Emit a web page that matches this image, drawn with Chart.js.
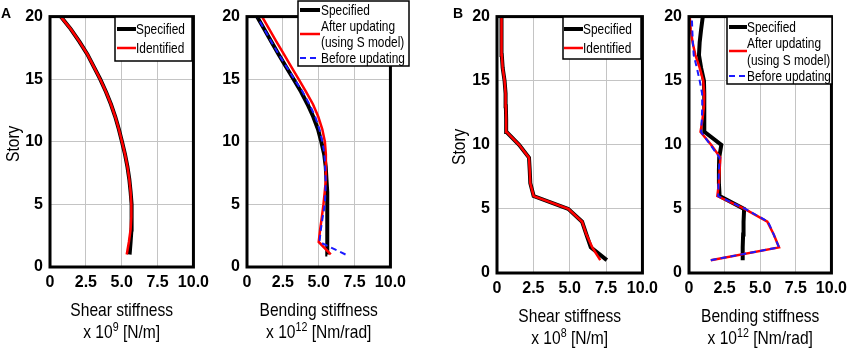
<!DOCTYPE html>
<html>
<head>
<meta charset="utf-8">
<script src="https://cdn.jsdelivr.net/npm/chart.js@4.4.1/dist/chart.umd.min.js"></script>
<style>
  body { margin: 0; background: #fff; }
  #wrap { position: relative; width: 856px; height: 349px; overflow: hidden; }
  canvas { position: absolute; top: 0; }
</style>
</head>
<body>
<div id="wrap">
  <canvas id="c1" width="215" height="349" style="left:0px"></canvas>
  <canvas id="c2" width="207" height="349" style="left:205px"></canvas>
  <canvas id="c3" width="234" height="349" style="left:430px"></canvas>
  <canvas id="c4" width="203" height="349" style="left:650px"></canvas>
</div>
<script>
// data
const stories = [1, 2, 3, 4, 5, 6, 7, 8, 9, 10, 11, 12, 13, 14, 15, 16, 17, 18, 19, 20];

// A - shear stiffness (x 10^9 N/m)
const aShearSpecified = [5.55, 5.62, 5.68, 5.70, 5.68, 5.62, 5.53, 5.40, 5.23, 5.02, 4.80, 4.55, 4.25, 3.90, 3.50, 3.05, 2.60, 2.05, 1.45, 0.75];
const aShearIdentified = [5.35, 5.50, 5.62, 5.67, 5.67, 5.62, 5.53, 5.40, 5.23, 5.02, 4.80, 4.55, 4.25, 3.90, 3.50, 3.05, 2.60, 2.05, 1.45, 0.75];
// A - bending stiffness (x 10^12 Nm/rad)
const aBendSpecified = [5.60, 5.60, 5.60, 5.60, 5.60, 5.58, 5.54, 5.49, 5.38, 5.18, 4.95, 4.62, 4.22, 3.77, 3.25, 2.72, 2.20, 1.70, 1.20, 0.70];
const aBendAfter = [5.84, 5.00, 5.10, 5.22, 5.33, 5.42, 5.50, 5.50, 5.50, 5.43, 5.25, 4.97, 4.60, 4.11, 3.60, 3.08, 2.57, 2.05, 1.55, 1.05];
const aBendBefore = [6.87, 5.05, 5.15, 5.28, 5.43, 5.47, 5.48, 5.45, 5.40, 5.26, 5.05, 4.76, 4.35, 3.88, 3.30, 2.75, 2.20, 1.70, 1.20, 0.70];

// B - shear stiffness (x 10^8 N/m)
const bShearSpecified = [7.55, 6.45, 6.15, 5.85, 4.90, 2.52, 2.29, 2.25, 2.20, 1.52, 0.66, 0.63, 0.61, 0.59, 0.52, 0.39, 0.33, 0.32, 0.31, 0.30];
const bShearIdentified = [7.10, 6.55, 6.15, 5.85, 4.90, 2.52, 2.29, 2.25, 2.20, 1.52, 0.66, 0.63, 0.61, 0.59, 0.52, 0.39, 0.33, 0.32, 0.31, 0.30];
// B - bending stiffness (x 10^12 Nm/rad)
const bBendSpecified = [3.77, 3.77, 3.80, 3.83, 3.87, 2.15, 2.10, 2.10, 2.12, 2.27, 1.10, 1.08, 1.07, 1.07, 1.05, 0.85, 0.70, 0.75, 0.85, 0.97];
const bBendAfter = [1.53, 6.32, 5.95, 5.50, 3.90, 1.99, 2.10, 2.15, 2.20, 1.55, 0.81, 0.95, 1.05, 1.07, 1.00, 0.75, 0.45, 0.25, 0.12, 0.05];
const bBendBefore = [1.53, 6.32, 5.95, 5.55, 3.95, 2.05, 2.07, 2.10, 2.15, 1.50, 0.85, 0.90, 0.93, 0.92, 0.75, 0.55, 0.33, 0.27, 0.23, 0.20];

const xMin = 0, xMax = 10, xStep = 2.5;
const yMin = 0, yMax = 20, yStep = 5;

const FONT = "'Liberation Sans', Arial, sans-serif";
const NARROW = 0.82; // the original uses a condensed face

const specStyle = { color: '#000000', width: 4 };
const redStyle = { color: '#ff0000', width: 2.5 };
const blueStyle = { color: '#1a1aff', width: 2, dash: [6, 4] };

function sampleLine(ctx, st, x0, x1, y) {
  ctx.save();
  ctx.strokeStyle = st.color;
  ctx.lineWidth = st.width;
  ctx.setLineDash(st.dash || []);
  ctx.beginPath();
  ctx.moveTo(x0, y);
  ctx.lineTo(x1, y);
  ctx.stroke();
  ctx.restore();
}

// condensed text: squeeze horizontally
function narrowText(ctx, text, x, y) {
  ctx.save();
  ctx.translate(x, y);
  ctx.scale(NARROW, 1);
  ctx.fillText(text, 0, 0);
  ctx.restore();
}
function narrowWidth(ctx, text) {
  return ctx.measureText(text).width * NARROW;
}

// border, legend box, axis titles, panel letters
const decor = {
  id: 'decor',
  afterDraw(chart, args, o) {
    const ctx = chart.ctx;
    const a = chart.chartArea;
    ctx.save();
    // thick frame
    ctx.strokeStyle = '#000';
    ctx.lineWidth = 3;
    ctx.strokeRect(a.left, a.top, a.right - a.left, a.bottom - a.top);

    // legend
    const L = o.legend;
    ctx.fillStyle = '#fff';
    ctx.fillRect(L.x, L.y, L.w, L.h);
    ctx.lineWidth = 1.5;
    ctx.strokeStyle = '#000';
    ctx.strokeRect(L.x, L.y, L.w, L.h);
    ctx.font = '14.5px ' + FONT;
    ctx.fillStyle = '#000';
    ctx.textAlign = 'left';
    ctx.textBaseline = 'middle';
    L.entries.forEach(e => {
      sampleLine(ctx, e.style, L.x + L.sx0, L.x + L.sx1, L.y + e.sy);
      e.text.forEach((t, i) => narrowText(ctx, t, L.x + L.tx, L.y + e.ty[i] + 1));
    });

    // x axis title, two lines
    const cx = (a.left + a.right) / 2;
    ctx.textAlign = 'left';
    ctx.textBaseline = 'alphabetic';
    ctx.font = '19px ' + FONT;
    let w = narrowWidth(ctx, o.xTitle);
    narrowText(ctx, o.xTitle, cx - w / 2, a.bottom + 49);
    const p1 = 'x 10', p3 = ' [' + o.unit + ']';
    const w1 = narrowWidth(ctx, p1), w3 = narrowWidth(ctx, p3);
    ctx.font = '13px ' + FONT;
    const w2 = narrowWidth(ctx, o.exp);
    let sx = cx - (w1 + w2 + w3) / 2;
    const by = a.bottom + 71;
    ctx.font = '19px ' + FONT;
    narrowText(ctx, p1, sx, by);
    ctx.font = '13px ' + FONT;
    narrowText(ctx, o.exp, sx + w1, by - 7);
    ctx.font = '19px ' + FONT;
    narrowText(ctx, p3, sx + w1 + w2, by);

    // Story label
    if (o.story) {
      ctx.save();
      ctx.translate(o.story.x, (a.top + a.bottom) / 2 + 2);
      ctx.rotate(-Math.PI / 2);
      ctx.textBaseline = 'middle';
      const ws = narrowWidth(ctx, 'Story');
      narrowText(ctx, 'Story', -ws / 2, 0);
      ctx.restore();
    }
    // panel letter
    if (o.letter) {
      ctx.font = 'bold 14px ' + FONT;
      ctx.textAlign = 'left';
      ctx.textBaseline = 'alphabetic';
      ctx.fillText(o.letter.text, o.letter.x, 18);
    }
    ctx.restore();
  }
};

function makePanel(id, series, yw, xh, deco) {
  const datasets = series.map((s, i) => ({
    data: stories.map((st, k) => ({ x: s.values[k], y: st })),
    showLine: true,
    borderColor: s.style.color,
    borderWidth: s.style.width,
    borderDash: s.style.dash || [],
    pointRadius: 0,
    tension: 0,
    fill: false,
    order: series.length - i
  }));
  return new Chart(document.getElementById(id), {
    type: 'scatter',
    data: { datasets: datasets },
    options: {
      responsive: false,
      animation: false,
      devicePixelRatio: 1,
      layout: { padding: { top: 13, right: 20, left: 0, bottom: 0 } },
      plugins: {
        legend: { display: false },
        tooltip: { enabled: false },
        decor: deco
      },
      scales: {
        x: {
          type: 'linear', min: xMin, max: xMax,
          ticks: {
            stepSize: xStep, padding: 6, color: '#000',
            font: { family: FONT, size: 16, weight: 'bold' },
            maxRotation: 0,
            callback: v => v === 0 ? '0' : v.toFixed(1)
          },
          grid: { color: '#c4c4c4', lineWidth: 1, drawTicks: false },
          border: { display: false },
          afterFit: s => { s.height = xh; }
        },
        y: {
          type: 'linear', min: yMin, max: yMax,
          ticks: {
            stepSize: yStep, padding: 7, color: '#000',
            font: { family: FONT, size: 16, weight: 'bold' }
          },
          grid: { color: '#c4c4c4', lineWidth: 1, drawTicks: false },
          border: { display: false },
          afterFit: s => { s.width = yw; }
        }
      }
    },
    plugins: [decor]
  });
}

makePanel('c1', [
  { values: aShearSpecified, style: specStyle },
  { values: aShearIdentified, style: redStyle }
], 50, 82, {
  xTitle: 'Shear stiffness', exp: '9', unit: 'N/m',
  story: { x: 14 }, letter: { text: 'A', x: 1 },
  legend: { x: 115, y: 17, w: 77, h: 44, sx0: 2, sx1: 21, tx: 21,
    entries: [
      { style: specStyle, sy: 12, text: ['Specified'], ty: [12] },
      { style: redStyle, sy: 31, text: ['Identified'], ty: [31] }
    ] }
});

makePanel('c2', [
  { values: aBendSpecified, style: specStyle },
  { values: aBendAfter, style: redStyle },
  { values: aBendBefore, style: blueStyle }
], 42, 82, {
  xTitle: 'Bending stiffness', exp: '12', unit: 'Nm/rad',
  legend: { x: 93, y: 1, w: 111, h: 65, sx0: 2, sx1: 22, tx: 23,
    entries: [
      { style: specStyle, sy: 9, text: ['Specified'], ty: [9] },
      { style: redStyle, sy: 33, text: ['After updating', '(using S model)'], ty: [25, 41] },
      { style: blueStyle, sy: 57, text: ['Before updating'], ty: [57] }
    ] }
});

makePanel('c3', [
  { values: bShearSpecified, style: specStyle },
  { values: bShearIdentified, style: redStyle }
], 67, 76, {
  xTitle: 'Shear stiffness', exp: '8', unit: 'N/m',
  story: { x: 30 }, letter: { text: 'B', x: 23 },
  legend: { x: 133, y: 17, w: 78, h: 42, sx0: 1, sx1: 20, tx: 20,
    entries: [
      { style: specStyle, sy: 12, text: ['Specified'], ty: [12] },
      { style: redStyle, sy: 31, text: ['Identified'], ty: [31] }
    ] }
});

makePanel('c4', [
  { values: bBendSpecified, style: specStyle },
  { values: bBendAfter, style: redStyle },
  { values: bBendBefore, style: blueStyle }
], 39, 76, {
  xTitle: 'Bending stiffness', exp: '12', unit: 'Nm/rad',
  legend: { x: 77, y: 17, w: 105, h: 67, sx0: 2, sx1: 20, tx: 20,
    entries: [
      { style: specStyle, sy: 10, text: ['Specified'], ty: [10] },
      { style: redStyle, sy: 34, text: ['After updating', '(using S model)'], ty: [26, 43] },
      { style: blueStyle, sy: 59, text: ['Before updating'], ty: [59] }
    ] }
});
</script>
</body>
</html>
